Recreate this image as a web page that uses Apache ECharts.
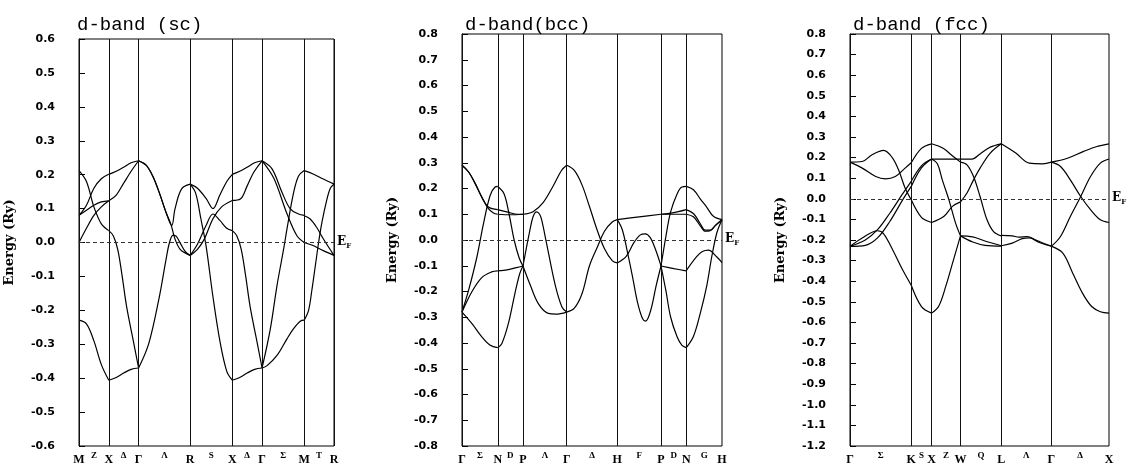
<!DOCTYPE html>
<html>
<head>
<meta charset="utf-8">
<script src="https://cdn.jsdelivr.net/npm/echarts@6/dist/echarts.min.js"></script>
<style>
  html, body { margin: 0; padding: 0; background: #fff; }
  #chart { width: 1128px; height: 468px; }
</style>
</head>
<body>
<div id="chart"></div>
<script>
// ---------------- simple cubic (sc) ----------------
const scTitle = 'd-band (sc)';
const scPointLabels = ['M', 'X', 'Γ', 'R', 'X', 'Γ', 'M', 'R'];
const scPointK = [0, 0.5, 1.0, 1.866, 2.573, 3.073, 3.780, 4.280];
const scPathLabels = ['Z', 'Δ', 'Λ', 'S', 'Δ', 'Σ', 'T'];
// bands per segment: each curve is a list of [fraction along segment, energy (Ry)]
const scBands = [
  [ // M -> X
    [[0, 0.212], [0.25, 0.18], [0.5, 0.105], [0.75, 0.055], [1, 0.035]],
    [[0, 0.08], [0.25, 0.11], [0.5, 0.16], [0.75, 0.188], [1, 0.201]],
    [[0, 0.08], [0.25, 0.095], [0.5, 0.11], [0.75, 0.12], [1, 0.123]],
    [[0, 0.0], [0.25, 0.042], [0.5, 0.08], [0.75, 0.105], [1, 0.123]],
    [[0, -0.229], [0.25, -0.24], [0.5, -0.29], [0.75, -0.36], [1, -0.406]]
  ],
  [ // X -> Γ
    [[0, 0.035], [0.15, 0.02], [0.3, -0.02], [0.45, -0.1], [0.6, -0.19], [0.8, -0.28], [1, -0.37]],
    [[0, 0.201], [0.25, 0.21], [0.5, 0.222], [0.75, 0.235], [1, 0.241]],
    [[0, 0.123], [0.25, 0.14], [0.5, 0.175], [0.75, 0.21], [1, 0.241]],
    [[0, -0.406], [0.25, -0.398], [0.5, -0.385], [0.75, -0.374], [1, -0.37]]
  ],
  [ // Γ -> R
    [[0, 0.241], [0.146, 0.228], [0.274, 0.196], [0.401, 0.147], [0.529, 0.09], [0.643, 0.05], [0.707, 0.1], [0.834, 0.158], [1, 0.172]],
    [[0, 0.241], [0.146, 0.228], [0.274, 0.196], [0.401, 0.147], [0.529, 0.09], [0.624, 0.055], [0.707, 0.01], [0.815, -0.022], [1, -0.038]],
    [[0, -0.37], [0.197, -0.298], [0.401, -0.161], [0.529, -0.053], [0.599, 0.0], [0.669, 0.022], [0.732, 0.018], [0.815, -0.004], [0.911, -0.028], [1, -0.038]]
  ],
  [ // R -> X
    [[0, 0.172], [0.172, 0.16], [0.377, 0.13], [0.541, 0.1], [0.705, 0.14], [0.869, 0.18], [1, 0.201]],
    [[0, 0.172], [0.131, 0.145], [0.254, 0.07], [0.377, -0.01], [0.541, -0.16], [0.705, -0.29], [0.869, -0.38], [1, -0.406]],
    [[0, -0.038], [0.172, -0.005], [0.377, 0.05], [0.541, 0.084], [0.705, 0.065], [0.869, 0.042], [1, 0.035]],
    [[0, -0.038], [0.172, -0.02], [0.336, 0.01], [0.541, 0.07], [0.746, 0.105], [1, 0.124]]
  ],
  [ // X -> Γ
    [[0, 0.035], [0.15, 0.02], [0.3, -0.02], [0.45, -0.1], [0.6, -0.19], [0.8, -0.28], [1, -0.37]],
    [[0, 0.201], [0.25, 0.21], [0.5, 0.222], [0.75, 0.235], [1, 0.241]],
    [[0, 0.124], [0.27, 0.128], [0.5, 0.167], [0.72, 0.207], [1, 0.241]],
    [[0, -0.406], [0.25, -0.398], [0.5, -0.385], [0.75, -0.374], [1, -0.37]]
  ],
  [ // Γ -> M
    [[0, 0.241], [0.236, 0.217], [0.472, 0.148], [0.669, 0.099], [0.866, 0.084], [1, 0.08]],
    [[0, 0.241], [0.276, 0.19], [0.591, 0.085], [0.827, 0.02], [1, 0.0]],
    [[0, -0.37], [0.197, -0.254], [0.354, -0.127], [0.512, -0.019], [0.591, 0.04], [0.748, 0.147], [0.866, 0.196], [1, 0.212]],
    [[0, -0.37], [0.118, -0.363], [0.354, -0.333], [0.591, -0.284], [0.748, -0.254], [0.906, -0.232], [1, -0.229]]
  ],
  [ // M -> R
    [[0, 0.212], [0.3, 0.202], [0.64, 0.187], [1, 0.172]],
    [[0, 0.079], [0.19, 0.07], [0.416, 0.045], [0.64, 0.011], [1, -0.038]],
    [[0, 0.0], [0.3, -0.009], [0.64, -0.024], [1, -0.038]],
    [[0, -0.229], [0.146, -0.2], [0.258, -0.14], [0.371, -0.07], [0.483, 0.0], [0.596, 0.06], [0.742, 0.12], [0.876, 0.16], [1, 0.172]]
  ]
];

// ---------------- body-centred cubic (bcc) ----------------
const bccTitle = 'd-band(bcc)';
const bccPointLabels = ['Γ', 'N', 'P', 'Γ', 'H', 'P', 'N', 'H'];
const bccPointK = [0, 0.707, 1.207, 2.073, 3.073, 3.939, 4.439, 5.146];
const bccPathLabels = ['Σ', 'D', 'Λ', 'Δ', 'F', 'D', 'G'];
const bccBands = [
  [ // Γ -> N
    [[0, 0.29], [0.185, 0.264], [0.37, 0.219], [0.556, 0.167], [0.74, 0.128], [1, 0.118]],
    [[0, 0.29], [0.185, 0.264], [0.37, 0.219], [0.556, 0.165], [0.74, 0.122], [0.88, 0.105], [1, 0.1]],
    [[0, -0.28], [0.185, -0.195], [0.417, -0.066], [0.6, 0.063], [0.787, 0.173], [0.926, 0.206], [1, 0.208]],
    [[0, -0.28], [0.28, -0.2], [0.56, -0.145], [0.83, -0.124], [1, -0.12]],
    [[0, -0.28], [0.28, -0.325], [0.56, -0.377], [0.79, -0.409], [1, -0.418]]
  ],
  [ // N -> P
    [[0, 0.118], [0.4, 0.108], [0.8, 0.1], [1, 0.1]],
    [[0, 0.1], [0.5, 0.098], [1, 0.1]],
    [[0, 0.208], [0.25, 0.18], [0.45, 0.1], [0.65, 0.0], [0.85, -0.07], [1, -0.101]],
    [[0, -0.12], [0.42, -0.115], [0.74, -0.107], [1, -0.101]],
    [[0, -0.418], [0.16, -0.403], [0.42, -0.325], [0.68, -0.208], [0.87, -0.131], [1, -0.101]]
  ],
  [ // P -> Γ
    [[0, 0.1], [0.23, 0.11], [0.46, 0.145], [0.69, 0.21], [0.88, 0.27], [1, 0.29]],
    [[0, -0.101], [0.155, 0.035], [0.23, 0.09], [0.31, 0.109], [0.38, 0.1], [0.43, 0.076], [0.54, -0.014], [0.73, -0.17], [0.89, -0.26], [1, -0.28]],
    [[0, -0.101], [0.155, -0.17], [0.35, -0.247], [0.58, -0.285], [0.75, -0.288], [1, -0.28]]
  ],
  [ // Γ -> H
    [[0, 0.29], [0.15, 0.27], [0.3, 0.215], [0.45, 0.13], [0.6, 0.04], [0.75, -0.035], [0.9, -0.08], [1, -0.089]],
    [[0, -0.28], [0.15, -0.265], [0.3, -0.21], [0.45, -0.1], [0.6, -0.03], [0.75, 0.035], [0.9, 0.07], [1, 0.079]]
  ],
  [ // H -> P
    [[0, 0.079], [0.5, 0.09], [1, 0.1]],
    [[0, 0.079], [0.115, 0.04], [0.23, -0.045], [0.346, -0.14], [0.46, -0.24], [0.577, -0.305], [0.65, -0.315], [0.77, -0.27], [0.885, -0.18], [1, -0.101]],
    [[0, -0.089], [0.2, -0.065], [0.37, -0.013], [0.52, 0.019], [0.64, 0.024], [0.75, 0.01], [0.87, -0.035], [1, -0.101]]
  ],
  [ // P -> N
    [[0, 0.1], [0.45, 0.105], [1, 0.118]],
    [[0, 0.1], [0.5, 0.1], [1, 0.1]],
    [[0, -0.101], [0.19, 0.012], [0.38, 0.109], [0.64, 0.18], [0.83, 0.206], [1, 0.208]],
    [[0, -0.101], [0.51, -0.111], [1, -0.12]],
    [[0, -0.101], [0.19, -0.195], [0.38, -0.299], [0.64, -0.377], [0.83, -0.409], [1, -0.418]]
  ],
  [ // N -> H
    [[0, 0.208], [0.2, 0.195], [0.4, 0.158], [0.57, 0.128], [0.76, 0.092], [1, 0.079]],
    [[0, 0.118], [0.206, 0.102], [0.393, 0.063], [0.53, 0.038], [0.67, 0.038], [0.81, 0.057], [1, 0.079]],
    [[0, 0.1], [0.2, 0.09], [0.393, 0.055], [0.53, 0.034], [0.67, 0.036], [0.81, 0.055], [1, 0.079]],
    [[0, -0.119], [0.29, -0.065], [0.45, -0.045], [0.62, -0.039], [0.85, -0.065], [1, -0.088]],
    [[0, -0.418], [0.2, -0.375], [0.4, -0.28], [0.57, -0.18], [0.72, -0.06], [0.86, 0.03], [1, 0.079]]
  ]
];

// ---------------- face-centred cubic (fcc) ----------------
const fccTitle = 'd-band (fcc)';
const fccPointLabels = ['Γ', 'K', 'X', 'W', 'L', 'Γ', 'X'];
const fccPointK = [0, 1.061, 1.414, 1.914, 2.621, 3.487, 4.487];
const fccPathLabels = ['Σ', 'S', 'Z', 'Q', 'Λ', 'Δ'];
const fccBands = [
  [ // Γ -> K
    [[0, 0.178], [0.2, 0.181], [0.36, 0.214], [0.55, 0.235], [0.69, 0.2], [0.8, 0.135], [0.9, 0.052], [1, -0.005]],
    [[0, 0.178], [0.2, 0.149], [0.42, 0.108], [0.58, 0.097], [0.74, 0.108], [0.9, 0.149], [1, 0.175]],
    [[0, -0.231], [0.2, -0.19], [0.45, -0.155], [0.55, -0.17], [0.7, -0.25], [0.85, -0.34], [1, -0.42]],
    [[0, -0.231], [0.25, -0.2], [0.45, -0.15], [0.65, -0.07], [0.85, 0.02], [1, 0.085]],
    [[0, -0.231], [0.25, -0.226], [0.45, -0.19], [0.65, -0.11], [0.85, -0.01], [1, 0.06]]
  ],
  [ // K -> X
    [[0, 0.175], [0.5, 0.245], [1, 0.267]],
    [[0, -0.005], [0.5, -0.09], [1, -0.115]],
    [[0, -0.42], [0.5, -0.523], [1, -0.555]],
    [[0, 0.085], [0.5, 0.16], [1, 0.193]],
    [[0, 0.06], [0.5, 0.15], [1, 0.193]]
  ],
  [ // X -> W
    [[0, 0.193], [0.5, 0.193], [1, 0.193]],
    [[0, 0.267], [0.4, 0.245], [0.75, 0.205], [1, 0.178]],
    [[0, 0.193], [0.2, 0.17], [0.37, 0.092], [0.6, -0.005], [0.83, -0.118], [1, -0.18]],
    [[0, -0.115], [0.43, -0.085], [0.72, -0.037], [1, -0.015]],
    [[0, -0.555], [0.25, -0.52], [0.5, -0.42], [0.75, -0.3], [1, -0.18]]
  ],
  [ // W -> L
    [[0, 0.193], [0.28, 0.193], [0.48, 0.218], [0.73, 0.251], [1, 0.267]],
    [[0, 0.178], [0.16, 0.165], [0.32, 0.108], [0.48, 0.011], [0.65, -0.102], [0.81, -0.159], [1, -0.18]],
    [[0, -0.015], [0.16, 0.028], [0.32, 0.092], [0.48, 0.149], [0.73, 0.222], [1, 0.267]],
    [[0, -0.18], [0.3, -0.185], [0.6, -0.205], [1, -0.228]],
    [[0, -0.18], [0.3, -0.21], [0.6, -0.226], [1, -0.23]]
  ],
  [ // L -> Γ
    [[0, 0.267], [0.29, 0.222], [0.56, 0.173], [0.83, 0.17], [1, 0.178]],
    [[0, -0.178], [0.22, -0.18], [0.35, -0.186], [0.52, -0.183], [0.69, -0.2], [0.87, -0.218], [1, -0.23]],
    [[0, -0.228], [0.22, -0.215], [0.42, -0.193], [0.56, -0.19], [0.76, -0.212], [1, -0.23]]
  ],
  [ // Γ -> X
    [[0, 0.178], [0.28, 0.197], [0.56, 0.23], [0.79, 0.254], [1, 0.267]],
    [[0, 0.178], [0.16, 0.157], [0.33, 0.092], [0.51, 0.011], [0.68, -0.053], [0.85, -0.102], [1, -0.115]],
    [[0, -0.231], [0.16, -0.183], [0.33, -0.086], [0.51, 0.011], [0.68, 0.108], [0.85, 0.173], [1, 0.193]],
    [[0, -0.23], [0.2, -0.264], [0.37, -0.36], [0.54, -0.458], [0.7, -0.523], [0.85, -0.548], [1, -0.555]]
  ]
];

const scYRange = [-0.6, 0.6];
const bccYRange = [-0.8, 0.8];
const fccYRange = [-1.2, 0.8];

// ---------------- layout ----------------
const panels = [
  { title: scTitle, labels: scPointLabels, k: scPointK, paths: scPathLabels, bands: scBands, yr: scYRange,
    grid: { left: 79, top: 39, width: 255, height: 407 }, titleLeft: 77 },
  { title: bccTitle, labels: bccPointLabels, k: bccPointK, paths: bccPathLabels, bands: bccBands, yr: bccYRange,
    grid: { left: 462, top: 34, width: 260, height: 412 }, titleLeft: 465 },
  { title: fccTitle, labels: fccPointLabels, k: fccPointK, paths: fccPathLabels, bands: fccBands, yr: fccYRange,
    grid: { left: 850, top: 34, width: 259, height: 412 }, titleLeft: 853 }
];

const grids = [], xAxes = [], yAxes = [], series = [], titles = [];

function lookup(vals, labels) {
  return function (v) {
    for (let j = 0; j < vals.length; j++) if (Math.abs(vals[j] - v) < 1e-6) return labels[j];
    return '';
  };
}

panels.forEach((p, i) => {
  grids.push(Object.assign({ show: true, borderColor: '#000', borderWidth: 1, backgroundColor: 'transparent', containLabel: false }, p.grid));
  const kmax = p.k[p.k.length - 1];
  const mids = [];
  for (let j = 0; j < p.k.length - 1; j++) mids.push((p.k[j] + p.k[j + 1]) / 2);

  xAxes.push({
    gridIndex: i, type: 'value', min: 0, max: kmax,
    axisLine: { show: false }, axisTick: { show: false }, splitLine: { show: false },
    axisLabel: {
      customValues: p.k, formatter: lookup(p.k, p.labels), showMinLabel: true, showMaxLabel: true,
      fontFamily: 'Liberation Serif', fontWeight: 'bold', fontSize: 12, color: '#000', margin: 8
    }
  });
  xAxes.push({
    gridIndex: i, type: 'value', min: 0, max: kmax, position: 'bottom',
    axisLine: { show: false }, axisTick: { show: false }, splitLine: { show: false },
    axisLabel: {
      customValues: mids, formatter: lookup(mids, p.paths),
      fontFamily: 'Liberation Serif', fontWeight: 'bold', fontSize: 9, color: '#000', margin: 5
    }
  });
  yAxes.push({
    gridIndex: i, type: 'value', min: p.yr[0], max: p.yr[1], interval: 0.1, offset: 17,
    axisLine: { show: true, lineStyle: { color: '#000', width: 1 } },
    axisTick: { show: true, inside: true, length: 6, lineStyle: { color: '#000' } },
    splitLine: { show: false },
    axisLabel: {
      fontFamily: 'DejaVu Sans', fontWeight: 'bold', fontSize: 11, color: '#000', margin: 7,
      formatter: v => (Math.abs(v) < 1e-9 ? '0.0' : v.toFixed(1))
    },
    name: 'Energy (Ry)', nameLocation: 'middle', nameGap: 46, nameRotate: 90,
    nameTextStyle: { fontFamily: 'DejaVu Serif', fontWeight: 'bold', fontSize: 13, color: '#000' }
  });
  titles.push({
    text: p.title, left: p.titleLeft, top: 15, padding: 0,
    textStyle: { fontFamily: 'Liberation Mono', fontSize: 19, fontWeight: 'normal', color: '#000' }
  });

  let first = true;
  p.bands.forEach((seg, s) => {
    const k0 = p.k[s], k1 = p.k[s + 1];
    seg.forEach(curve => {
      const ser = {
        type: 'line', xAxisIndex: 2 * i, yAxisIndex: i,
        data: curve.map(([t, e]) => [k0 + t * (k1 - k0), e]),
        smooth: 0.35, showSymbol: false, silent: true, animation: false,
        lineStyle: { color: '#000', width: 1.2 }
      };
      if (first) {
        first = false;
        const ml = p.k.map(k => ({ xAxis: k, lineStyle: { color: '#111', width: 1, type: 'solid' }, label: { show: false } }));
        ml.push({
          yAxis: 0,
          lineStyle: { color: '#333', width: 1, type: [4, 3] },
          label: {
            show: true, position: 'end', distance: 3,
            formatter: '{e|E}{f|F}',
            rich: {
              e: { fontFamily: 'DejaVu Serif', fontWeight: 'bold', fontSize: 12, color: '#000', lineHeight: 14, verticalAlign: 'top' },
              f: { fontFamily: 'DejaVu Serif', fontWeight: 'bold', fontSize: 7, color: '#000', lineHeight: 8, verticalAlign: 'bottom' }
            }
          }
        });
        ser.markLine = { silent: true, symbol: ['none', 'none'], animation: false, data: ml };
      }
      series.push(ser);
    });
  });
});

const chart = echarts.init(document.getElementById('chart'), null, { renderer: 'canvas' });
chart.setOption({
  backgroundColor: '#fff',
  animation: false,
  title: titles,
  grid: grids,
  xAxis: xAxes,
  yAxis: yAxes,
  series: series
});
</script>
</body>
</html>
